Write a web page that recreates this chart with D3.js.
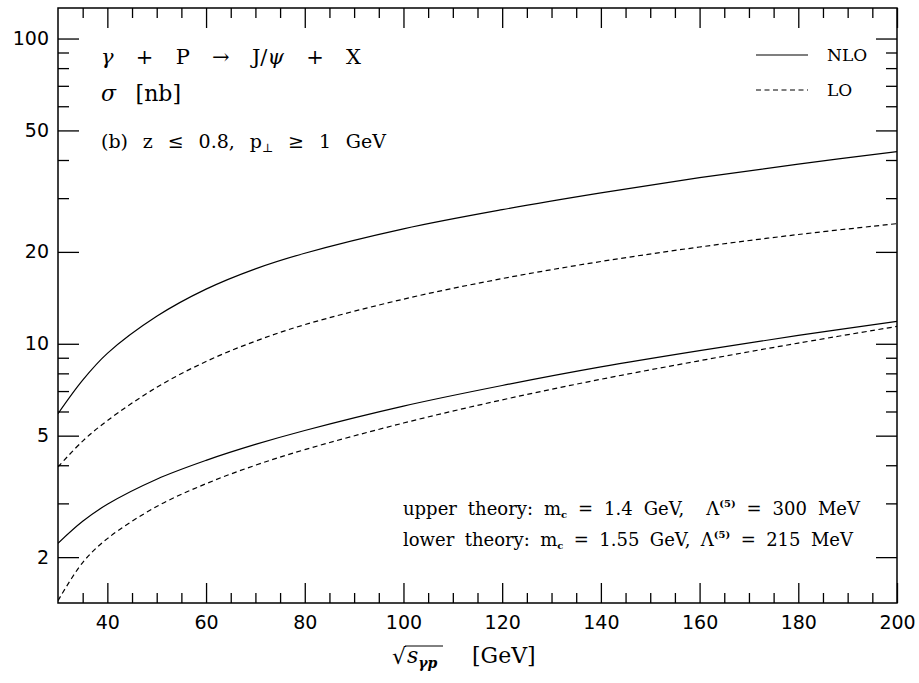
<!DOCTYPE html>
<html>
<head>
<meta charset="utf-8">
<script src="https://cdn.jsdelivr.net/npm/d3@7"></script>
<style>
  html, body { margin: 0; padding: 0; background: #fff; }
  svg { display: block; }
  .tick text { font-family: "DejaVu Sans", sans-serif; font-size: 19px; fill: #000; }
  .tick line { stroke: #000; stroke-width: 1.3; }
  .note { font-family: "DejaVu Serif", serif; fill: #000; white-space: pre; }
</style>
</head>
<body>
<script>
// photon-proton energy sqrt(s_γp) in GeV
const energies = [30, 35, 40, 50, 60, 70, 80, 100, 120, 140, 160, 180, 200];

// cross sections σ [nb]
const upperNLO = [5.9, 7.6, 9.3, 12.3, 15.1, 17.6, 19.8, 23.8, 27.5, 31.2, 35.0, 38.8, 42.6];
const upperLO  = [3.95, 4.8, 5.6, 7.2, 8.75, 10.2, 11.55, 14.0, 16.35, 18.6, 20.75, 22.8, 24.75];
const lowerNLO = [2.22, 2.62, 2.98, 3.6, 4.15, 4.68, 5.2, 6.25, 7.3, 8.4, 9.5, 10.65, 11.85];
const lowerLO  = [1.44, 1.92, 2.3, 2.93, 3.48, 4.0, 4.5, 5.5, 6.55, 7.65, 8.8, 10.05, 11.4];

// axis ticks
const xMajor = [40, 60, 80, 100, 120, 140, 160, 180, 200];
const xMinor = [35, 45, 50, 55, 65, 70, 75, 85, 90, 95, 105, 110, 115, 125, 130, 135,
                145, 150, 155, 165, 170, 175, 185, 190, 195];
const yMajor = [2, 5, 10, 20, 50, 100];
const yMinor = [3, 4, 6, 7, 8, 9, 30, 40, 60, 70, 80, 90];

const W = 919, H = 683;
const L = 58, R = 897, T = 8, B = 603;

const svg = d3.select("body").append("svg")
  .attr("width", W).attr("height", H);

const x = d3.scaleLinear().domain([30, 200]).range([L, R]);
const y = d3.scaleLog().domain([1.415, 125.9]).range([B, T]);

function strip(g) { g.select(".domain").remove(); }

// inward ticks on all four sides
svg.append("g").attr("transform", `translate(${L},0)`)
  .call(d3.axisLeft(y).tickValues(yMajor).tickSize(-21).tickPadding(9).tickFormat(d3.format("d")))
  .call(strip);
svg.append("g").attr("transform", `translate(${L},0)`)
  .call(d3.axisLeft(y).tickValues(yMinor).tickSize(-11).tickFormat(""))
  .call(strip);
svg.append("g").attr("transform", `translate(${R},0)`)
  .call(d3.axisRight(y).tickValues(yMajor).tickSize(-21).tickFormat(""))
  .call(strip);
svg.append("g").attr("transform", `translate(${R},0)`)
  .call(d3.axisRight(y).tickValues(yMinor).tickSize(-11).tickFormat(""))
  .call(strip);
svg.append("g").attr("transform", `translate(0,${B})`)
  .call(d3.axisBottom(x).tickValues(xMajor).tickSize(-20).tickPadding(13).tickFormat(d3.format("d")))
  .call(strip);
svg.append("g").attr("transform", `translate(0,${B})`)
  .call(d3.axisBottom(x).tickValues(xMinor).tickSize(-10).tickFormat(""))
  .call(strip);
svg.append("g").attr("transform", `translate(0,${T})`)
  .call(d3.axisTop(x).tickValues(xMajor).tickSize(-20).tickFormat(""))
  .call(strip);
svg.append("g").attr("transform", `translate(0,${T})`)
  .call(d3.axisTop(x).tickValues(xMinor).tickSize(-10).tickFormat(""))
  .call(strip);
svg.selectAll(".tick text").attr("fill", "#000");

// frame
svg.append("rect")
  .attr("x", L).attr("y", T).attr("width", R - L).attr("height", B - T)
  .attr("fill", "none").attr("stroke", "#000").attr("stroke-width", 1.5);

// curves
svg.append("clipPath").attr("id", "plot")
  .append("rect").attr("x", L).attr("y", T).attr("width", R - L).attr("height", B - T);

const line = d3.line()
  .x((d, i) => x(energies[i]))
  .y(d => y(d))
  .curve(d3.curveCatmullRom.alpha(0.5));

const series = [
  { values: upperNLO, dash: null },
  { values: upperLO,  dash: "5,3.5" },
  { values: lowerNLO, dash: null },
  { values: lowerLO,  dash: "5,3.5" }
];

svg.append("g").attr("clip-path", "url(#plot)")
  .selectAll("path").data(series).join("path")
  .attr("d", d => line(d.values))
  .attr("fill", "none")
  .attr("stroke", "#000")
  .attr("stroke-width", 1.2)
  .attr("stroke-dasharray", d => d.dash);

// legend
const legend = [
  { label: "NLO", dash: null, y: 55 },
  { label: "LO",  dash: "5,3.5", y: 90 }
];
const lg = svg.append("g");
lg.selectAll("line").data(legend).join("line")
  .attr("x1", 756).attr("x2", 808)
  .attr("y1", d => d.y).attr("y2", d => d.y)
  .attr("stroke", "#000").attr("stroke-width", 1.2)
  .attr("stroke-dasharray", d => d.dash);
lg.selectAll("text").data(legend).join("text")
  .attr("class", "note")
  .attr("x", 827).attr("y", d => d.y + 6)
  .attr("font-size", 17)
  .text(d => d.label);

// widen the word gaps of a text line so that it spans the given width
function spread(t, width) {
  const node = t.node();
  const spaces = (node.textContent.match(/ /g) || []).length;
  const natural = node.getComputedTextLength();
  if (spaces > 0 && natural < width) {
    t.attr("word-spacing", (width - natural) / spaces);
  }
  return t;
}

// process and cuts
const t1 = svg.append("text").attr("class", "note")
  .attr("x", 101).attr("y", 64).attr("font-size", 21);
t1.append("tspan").attr("font-style", "italic").text("γ");
t1.append("tspan").text(" + P → J/");
t1.append("tspan").attr("font-style", "italic").text("ψ");
t1.append("tspan").text(" + X");
spread(t1, 260);

const t2 = svg.append("text").attr("class", "note")
  .attr("x", 101).attr("y", 101).attr("font-size", 22);
t2.append("tspan").attr("font-style", "italic").text("σ");
t2.append("tspan").text(" [nb]");
spread(t2, 80);

const t3 = svg.append("text").attr("class", "note")
  .attr("x", 101).attr("y", 148).attr("font-size", 19);
t3.append("tspan").text("(b) z ≤ 0.8, p");
t3.append("tspan").attr("font-size", 12).attr("dy", 4).text("⊥");
t3.append("tspan").attr("dy", -4).text(" ≥ 1 GeV");
spread(t3, 285);

// parameter sets
function theory(yPos, len, pre, mid, post) {
  const t = svg.append("text").attr("class", "note")
    .attr("x", 403).attr("y", yPos).attr("font-size", 18);
  t.append("tspan").text(pre + " m");
  t.append("tspan").attr("font-size", 10).attr("font-weight", "bold").attr("dy", 3).text("c");
  t.append("tspan").attr("dy", -3).text(mid + "Λ");
  t.append("tspan").attr("font-size", 10).attr("font-weight", "bold").attr("dy", -8).text("(5)");
  t.append("tspan").attr("dy", 8).text(post);
  spread(t, len);
}
theory(515, 457, "upper theory:", " = 1.4 GeV,  ", " = 300 MeV");
theory(546, 450, "lower theory:", " = 1.55 GeV, ", " = 215 MeV");

// x-axis title: sqrt(s_γp) [GeV]
const xt = svg.append("g");
xt.append("text").attr("class", "note")
  .attr("x", 392).attr("y", 664).attr("font-size", 22).text("√");
xt.append("line")
  .attr("x1", 405).attr("x2", 443).attr("y1", 646).attr("y2", 646)
  .attr("stroke", "#000").attr("stroke-width", 1);
const xs = xt.append("text").attr("class", "note")
  .attr("x", 407).attr("y", 663).attr("font-size", 22);
xs.append("tspan").attr("font-style", "italic").text("s");
xs.append("tspan").attr("font-size", 14).attr("font-style", "italic").attr("font-weight", "bold").attr("dy", 5).text("γp");
xt.append("text").attr("class", "note")
  .attr("x", 472).attr("y", 663).attr("font-size", 22).text("[GeV]");
</script>
</body>
</html>
